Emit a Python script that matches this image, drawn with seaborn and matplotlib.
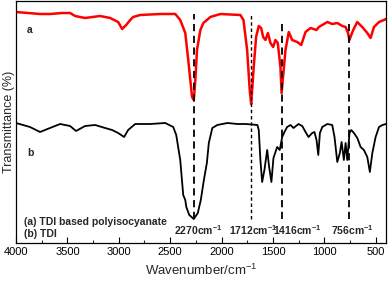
import matplotlib
matplotlib.use("Agg")
import matplotlib.pyplot as plt
import seaborn as sns
import pandas as pd

# FTIR spectra (wavenumber cm-1, transmittance in arbitrary units)
wn_a = [4000, 3766, 3669, 3552, 3474, 3425, 3328, 3182, 3084, 3006, 2967, 2928, 2889,
        2860, 2792, 2597, 2450, 2402, 2353, 2324, 2287, 2270, 2255, 2239, 2206, 2177,
        2109, 2012, 1817, 1787, 1751, 1726, 1712, 1687, 1664, 1638, 1615, 1595, 1573,
        1549, 1524, 1498, 1476, 1453, 1427, 1416, 1378, 1346, 1313, 1264, 1225, 1183,
        1134, 1076, 1053, 971, 923, 874, 825, 793, 770, 756, 719, 680, 631, 582, 550,
        517, 468, 420, 400]
t_a = [231, 229, 229, 230, 230, 227, 225, 227, 225, 221, 214, 218, 223,
       226, 228, 229, 229, 223, 210, 183, 146, 143, 163, 193, 213, 220,
       226, 229, 228, 223, 193, 153, 139, 176, 206, 217, 215, 206, 203,
       210, 200, 196, 203, 200, 176, 150, 193, 211, 203, 201, 198, 211,
       215, 213, 216, 221, 219, 220, 217, 216, 210, 203, 213, 221, 216, 210, 205,
       216, 221, 223, 224]

wn_b = [4000, 3864, 3766, 3669, 3571, 3474, 3416, 3328, 3230, 3133, 3065, 3006, 2948,
        2909, 2840, 2694, 2548, 2470, 2441, 2402, 2373, 2353, 2343, 2314, 2270, 2231,
        2202, 2172, 2143, 2124, 2090, 2041, 1943, 1846, 1764, 1651, 1638, 1622, 1605,
        1583, 1556, 1537, 1515, 1495, 1459, 1434, 1410, 1388, 1362, 1329, 1300, 1251,
        1215, 1183, 1154, 1118, 1096, 1076, 1059, 1043, 1020, 971, 923, 901, 874, 849,
        832, 810, 793, 777, 755, 738, 712, 679, 647, 615, 582, 557, 533, 501, 468,
        435, 400]
t_b = [120, 116, 111, 115, 119, 117, 112, 117, 118, 115, 113, 110, 106,
       113, 119, 119, 120, 116, 108, 83, 48, 43, 36, 28, 24, 30,
       43, 63, 80, 100, 115, 118, 120, 119, 119, 118, 113, 83, 61,
       73, 93, 76, 61, 85, 96, 93, 106, 111, 116, 118, 115, 119,
       117, 111, 106, 110, 111, 103, 88, 110, 116, 119, 118, 106, 81, 90,
       101, 83, 100, 83, 110, 113, 110, 105, 96, 93, 86, 71, 90, 106, 116,
       118, 119]

peaks = [2270, 1712, 1416, 756]
peak_tops = [229, 229, 220, 222]
peak_labels = ["2270", "1712", "1416", "756"]
label_x = [2225, 1690, 1261, 725]

sns.set_theme(style="ticks")
plt.rcParams["font.family"] = ["Liberation Sans", "DejaVu Sans"]
plt.rcParams["mathtext.fontset"] = "custom"
plt.rcParams["mathtext.rm"] = "Liberation Sans"
plt.rcParams["mathtext.bf"] = "Liberation Sans:bold"

df_a = pd.DataFrame({"wn": wn_a, "t": t_a})
df_b = pd.DataFrame({"wn": wn_b, "t": t_b})

fig = plt.figure(figsize=(3.88, 2.81), dpi=100)
ax = fig.add_axes([16 / 388, 38 / 281, 370 / 388, 242 / 281])

sns.lineplot(data=df_a, x="wn", y="t", color="#ff0000", lw=1.8, estimator=None, ax=ax)
sns.lineplot(data=df_b, x="wn", y="t", color="black", lw=1.3, estimator=None, ax=ax)

for i, p in enumerate(peaks):
    if p == 1712:
        ax.vlines(p, 24, peak_tops[i], colors="black", lw=1.0, linestyles=(0, (2.5, 2)))
    else:
        ax.vlines(p, 24, peak_tops[i], colors="black", lw=1.3, linestyles=(0, (4, 2.5)))
    ax.text(label_x[i], 13, peak_labels[i] + r"cm$^{\mathbf{-1}}$", ha="center", va="center",
            fontsize=7.5, fontweight="bold")

ax.text(3893, 213, "a", fontsize=7.5, fontweight="bold", va="center")
ax.text(3893, 90, "b", fontsize=7.5, fontweight="bold", va="center")
ax.text(3922, 21, "(a) TDI based polyisocyanate", fontsize=7.5, fontweight="bold", va="center")
ax.text(3922, 9, "(b) TDI", fontsize=7.5, fontweight="bold", va="center")

ax.set_xlim(4000, 400)
ax.set_ylim(0, 242)
ax.set_xticks([4000, 3500, 3000, 2500, 2000, 1500, 1000, 500])
ax.set_xticks([3750, 3250, 2750, 2250, 1750, 1250, 750], minor=True)
ax.set_yticks([])
ax.tick_params(axis="x", which="major", direction="in", length=4, width=0.8,
               labelsize=8, pad=3, colors="black")
ax.tick_params(axis="x", which="minor", direction="in", length=2.5, width=0.8)
ax.set_xlabel(r"Wavenumber/cm$^{-1}$", fontsize=9.5, labelpad=4)
ax.set_ylabel("Transmittance (%)", fontsize=9, labelpad=1)
for s in ax.spines.values():
    s.set_color("black")
    s.set_linewidth(0.9)

fig.savefig("out.png", dpi=100)
